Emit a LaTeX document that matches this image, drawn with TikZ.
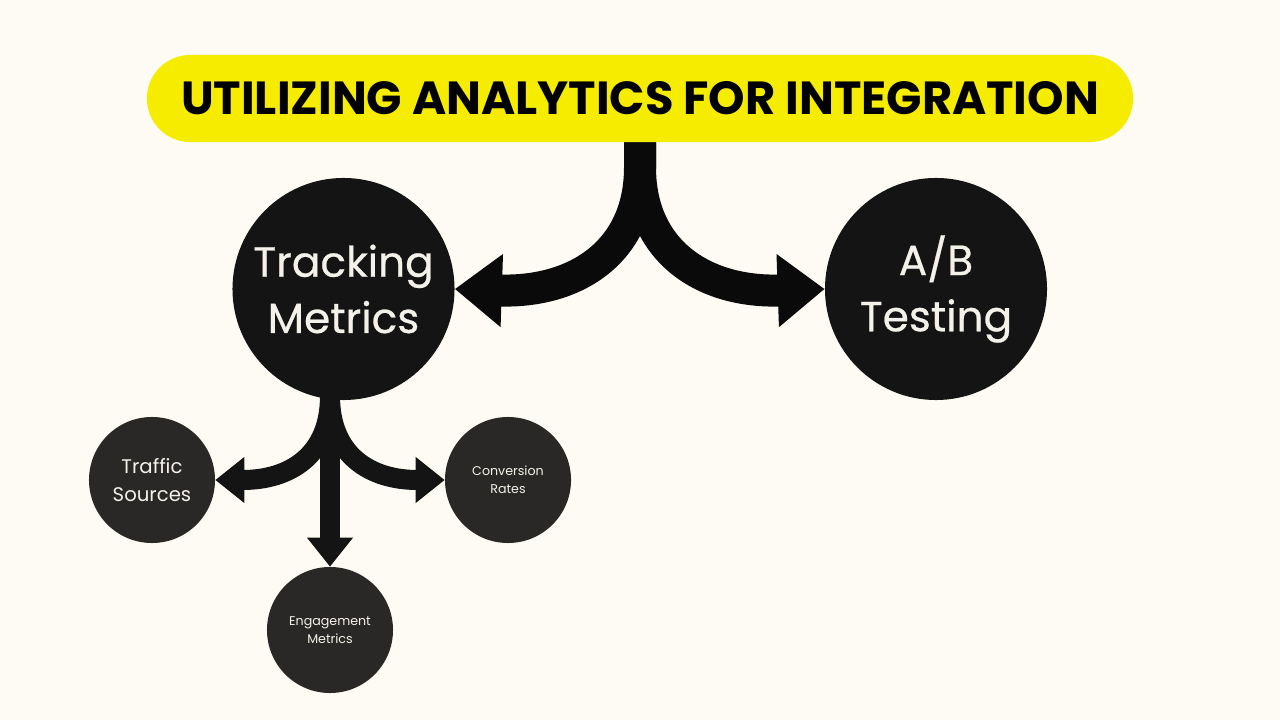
\documentclass[tikz,border=0pt]{standalone}
\usepackage{fontspec}
\setmainfont{Poppins}
\newfontfamily\medfont[FakeBold=0.6]{Poppins}
\usepackage{tikz}
\usetikzlibrary{arrows.meta, positioning, calc}
\definecolor{paper}{HTML}{FDFBF3}
\definecolor{bannerylw}{HTML}{F5EC00}
\definecolor{bigdark}{HTML}{141414}
\definecolor{smalldark}{HTML}{2A2826}
\definecolor{arrowdark}{HTML}{0A0A0A}
\definecolor{softwhite}{HTML}{F4F1EA}

\begin{document}
\begin{tikzpicture}[
  x=0.025cm, y=-0.025cm,
  bigcirc/.style={circle, fill=bigdark, minimum size=5.55cm, inner sep=0pt, align=center, text=softwhite, font=\medfont\fontsize{30}{40}\selectfont},
  smallcirc/.style={circle, fill=smalldark, minimum size=3.15cm, inner sep=0pt, align=center, text=softwhite},
  bigarrow/.style={draw=arrowdark, line width=0.8cm, -{Triangle[length=1.175cm, width=1.75cm]}},
  smallarrow/.style={draw=bigdark, line width=0.5cm, -{Triangle[length=0.725cm, width=1.1cm]}}
]
  \fill[paper] (0,0) rectangle (1280,720);
  \useasboundingbox (0,0) rectangle (1280,720);

  \node[fill=bannerylw, rounded corners=1.09cm, minimum width=24.65cm, minimum height=2.18cm, font=\bfseries\fontsize{33}{40}\selectfont] (banner) at (640,98.5) {UTILIZING ANALYTICS FOR INTEGRATION};

  \node[bigcirc] (tracking) at (343.5,289) {Tracking\\Metrics};
  \node[bigcirc] (abtest) at (936,289) {A/B\\Testing};

  \node[smallcirc, font=\fontsize{14}{20}\selectfont] (traffic) at (152,480) {Traffic\\Sources};
  \node[smallcirc, font=\fontsize{9}{13}\selectfont] (conversion) at (508,480) {Conversion\\Rates};
  \node[smallcirc, font=\fontsize{9}{13}\selectfont] (engagement) at (330,630) {Engagement\\Metrics};

  % main split from the banner
  \draw[bigarrow] (banner.south) -- ++(0,25) .. controls +(0,85) and (575,293) .. (tracking.east);
  \draw[bigarrow] (banner.south) -- ++(0,25) .. controls +(0,85) and (705,293) .. (abtest.west);

  % branches below tracking
  \coordinate (split) at (330,396);
  \draw[smallarrow] (split) .. controls (330,455) and (290,480) .. (traffic.east);
  \draw[smallarrow] (split) .. controls (330,455) and (370,480) .. (conversion.west);
  \draw[smallarrow] (split) -- (engagement.north);
\end{tikzpicture}
\end{document}
